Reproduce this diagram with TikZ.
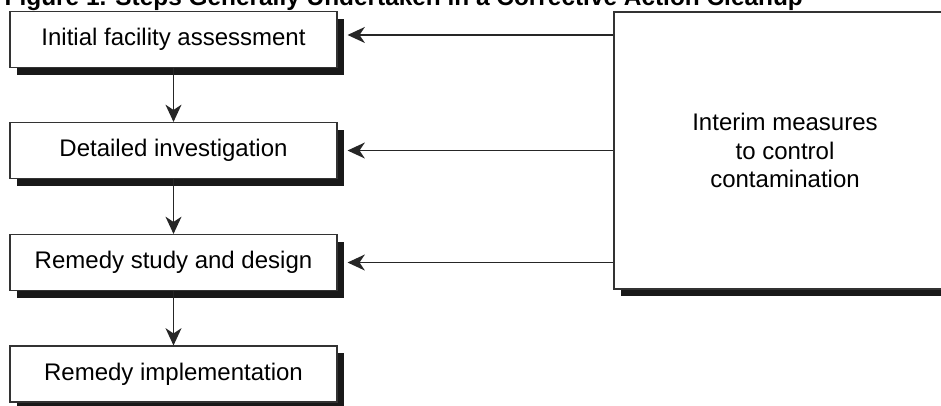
\documentclass[tikz,border=0pt]{standalone}
\usepackage{fontspec}
\setmainfont{Liberation Sans}
\usetikzlibrary{arrows.meta,shadows}
\begin{document}
\begin{tikzpicture}[%
            x=0.75pt, y=-0.75pt,
            mybox/.style={shape=rectangle, draw=black!80, line width=0.8pt, fill=white,
                          minimum width=245.25pt, minimum height=42pt, inner sep=0pt,
                          font=\fontsize{18}{21.6}\selectfont,
                          drop shadow={shadow xshift=5.25pt, shadow yshift=-5.25pt,
                                       fill=black!90, opacity=1}},
            myarrow/.style={line width=1.1pt, black!85,
                            -{Stealth[length=13pt, width=12pt, inset=4pt]}}
        ]
        \useasboundingbox (0,0) rectangle (941,405);
        \node [anchor=base west, font=\bfseries\fontsize{18.3}{22}\selectfont]
              (title) at (0,5) {Figure 1. Steps Generally Undertaken in a Corrective Action Cleanup};

        \node [mybox] (assess) at (173.5,39.5) {Initial facility assessment};
        \node [mybox] (invest) at (173.5,150.5) {Detailed investigation};
        \node [mybox] (design) at (173.5,262.5) {Remedy study and design};
        \node [mybox] (implem) at (173.5,374) {Remedy implementation};

        \node [mybox, minimum width=256.5pt, minimum height=207.75pt, align=center]
              (interim) at (785,150.5) {Interim measures\\to control\\contamination};

        \draw [myarrow] (assess) -- (invest);
        \draw [myarrow] (invest) -- (design);
        \draw [myarrow] (design) -- (implem);

        \draw [myarrow] ([yshift=3.4pt]interim.west |- assess.east) -- ([xshift=7.5pt, yshift=3.4pt]assess.east);
        \draw [myarrow] (interim.west |- invest.east) -- ([xshift=7.5pt]invest.east);
        \draw [myarrow] (interim.west |- design.east) -- ([xshift=7.5pt]design.east);
    \end{tikzpicture}
\end{document}
